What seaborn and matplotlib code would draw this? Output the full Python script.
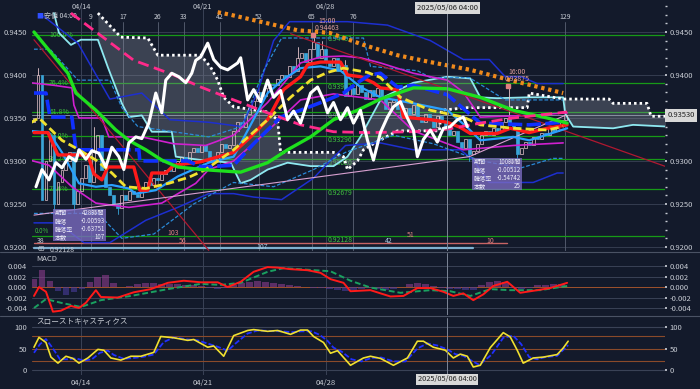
import numpy as np
import pandas as pd
import seaborn as sns
import matplotlib.pyplot as plt
import matplotlib.transforms as mtrans
from matplotlib.patches import Rectangle
from matplotlib.lines import Line2D

sns.set_theme(style="dark")
plt.rcParams['font.family'] = ['Noto Sans CJK JP', 'DejaVu Sans']

BG = "#131a2b"
GRID = "#3a4256"
TXT = "#c8ccd4"

# ---- candles (4h bars, one per bar index) ----
open0 = 0.9345
closes = [
    0.9350, 0.9400, 0.9255, 0.9300, 0.9330, 0.9250, 0.9275, 0.9290, 0.9300, 0.9310,
    0.9250, 0.9265, 0.9280, 0.9295, 0.9275, 0.9310, 0.9330, 0.9290, 0.9270, 0.9260,
    0.9250, 0.9245, 0.9260, 0.9255, 0.9265, 0.9262, 0.9258, 0.9268, 0.9275, 0.9272,
    0.9280, 0.9278, 0.9285, 0.9290, 0.9288, 0.9295, 0.9300, 0.9305, 0.9298, 0.9310,
    0.9315, 0.9310, 0.9318, 0.9312, 0.9305, 0.9300, 0.9310, 0.9320, 0.9315, 0.9318,
    0.9335, 0.9345, 0.9340, 0.9355, 0.9362, 0.9370, 0.9380, 0.9375, 0.9385, 0.9390,
    0.9388, 0.9395, 0.9400, 0.9398, 0.9410, 0.9405, 0.9420, 0.9425, 0.9415, 0.9430,
    0.9438, 0.9420, 0.9430, 0.9415, 0.9410, 0.9420, 0.9405, 0.9412, 0.9375, 0.9385,
    0.9378, 0.9388, 0.9380, 0.9372, 0.9382, 0.9376, 0.9385, 0.9375, 0.9360, 0.9368,
    0.9372, 0.9360, 0.9350, 0.9362, 0.9355, 0.9365, 0.9350, 0.9345, 0.9355, 0.9348,
    0.9340, 0.9352, 0.9345, 0.9338, 0.9330, 0.9335, 0.9322, 0.9315, 0.9325, 0.9308,
    0.9312, 0.9320, 0.9330, 0.9335, 0.9330, 0.9338, 0.9335, 0.9345, 0.9350, 0.9342,
    0.9340, 0.9308, 0.9315, 0.9322, 0.9318, 0.9328, 0.9325, 0.9332, 0.9330, 0.9338,
    0.9335, 0.9342, 0.9348, 0.9353,
]
highs = {1: 0.9408, 15: 0.9340, 66: 0.9432, 70: 0.94463, 72: 0.9440, 78: 0.9418, 119: 0.93875}
lows = {5: 0.9242, 10: 0.9240, 21: 0.9238, 109: 0.9300, 121: 0.9302}

# ---- indicator lines: (bar, value) ----
ma_green = [(0, 0.9450), (8.5, 0.9402), (10.5, 0.9379), (15.5, 0.9359), (20.5, 0.9336), (23.75, 0.9324),
            (28, 0.9313), (32, 0.9301), (36, 0.9293), (42, 0.9290), (51.75, 0.9287), (58.5, 0.9298),
            (63.5, 0.9313), (69.25, 0.9328), (75, 0.9348), (81, 0.9359), (86.75, 0.9372), (95, 0.9385),
            (103.5, 0.9384), (111.75, 0.9374), (120, 0.9359), (128.5, 0.9350), (133.5, 0.9344)]
ma_magenta = [(9.25, 0.9472), (25, 0.9417), (35, 0.9400), (41.75, 0.9386), (50, 0.9371), (58.5, 0.9356),
              (66.75, 0.9342), (75, 0.9334), (83.5, 0.9333), (95, 0.9334), (103.5, 0.9337),
              (111.75, 0.9344), (120, 0.9350), (133.5, 0.9357)]
ma_orange = [(46, 0.9473), (49.25, 0.9470), (66, 0.9452), (74, 0.9449), (82.5, 0.9435), (91, 0.9423),
             (99.25, 0.9415), (109.25, 0.9406), (119.25, 0.9394), (132.5, 0.9379)]
span_b = [(16, 0.9472), (21.75, 0.9444), (28.5, 0.9443), (31, 0.9423), (41.75, 0.9423), (44.25, 0.9409),
          (46, 0.9394), (47.5, 0.9374), (50, 0.9363), (58.5, 0.9357), (61, 0.9348), (61.75, 0.9310),
          (75, 0.9310), (77.5, 0.9305), (78.5, 0.9290), (81, 0.9300), (82.5, 0.9313), (85, 0.9320),
          (91, 0.9335), (101.5, 0.9335), (102, 0.9359), (108.5, 0.9362), (123.5, 0.9362), (124, 0.9379),
          (132.5, 0.9372), (144, 0.9372), (145, 0.9367), (153.5, 0.9367), (154.5, 0.9352), (158.5, 0.9352)]
span_a = [(5, 0.9472), (6.25, 0.9449), (9.25, 0.9435), (11.75, 0.9441), (16, 0.9441), (18.5, 0.9409),
          (22, 0.9367), (23.75, 0.9351), (27, 0.9353), (29.5, 0.9334), (34.5, 0.9334), (35.5, 0.9305),
          (42, 0.9301), (49.25, 0.9298), (51.75, 0.9274), (54.25, 0.9278), (58.5, 0.9290), (63.5, 0.9298),
          (69.25, 0.9294), (75, 0.9294), (78.5, 0.9305), (81.75, 0.9328), (85, 0.9356), (87, 0.9373),
          (95, 0.9391), (103.5, 0.9398), (109.25, 0.9396), (111.75, 0.9374), (116, 0.9373), (123.5, 0.9374),
          (132.5, 0.9374), (133, 0.9355), (135, 0.9340), (145, 0.9338), (150, 0.9342), (158.5, 0.9340)]
ma_yellow = [(-1, 0.9344), (1.25, 0.9350), (7, 0.9324), (11.25, 0.9313), (15.5, 0.9301), (19.5, 0.9286),
             (23, 0.9270), (28, 0.9268), (33.75, 0.9274), (38.75, 0.9281), (43, 0.9290), (50, 0.9313),
             (58.5, 0.9348), (64.25, 0.9374), (69.25, 0.9394), (73.5, 0.9403), (77.5, 0.9408), (83.5, 0.9403),
             (86.75, 0.9397), (91.75, 0.9374), (99.25, 0.9359), (107.5, 0.9351), (111.75, 0.9342),
             (120, 0.9338), (128.5, 0.9336), (132.5, 0.9340)]
ma_red = [(0, 0.9333), (3.5, 0.9333), (6, 0.9307), (13.5, 0.9307), (15, 0.9285), (17, 0.9278), (18.5, 0.9293),
          (25, 0.9293), (26.5, 0.9266), (28.5, 0.9266), (29.5, 0.9286), (33, 0.9286), (35, 0.9295),
          (41.75, 0.9299), (50, 0.9310), (54.25, 0.9328), (58.5, 0.9348), (62.5, 0.9383), (66.75, 0.9398),
          (68.5, 0.9412), (71.75, 0.9415), (76.75, 0.9415), (78.5, 0.9400), (81.75, 0.9398), (85, 0.9391),
          (86.75, 0.9385), (91, 0.9383), (92.5, 0.9351), (99.25, 0.9348), (103.5, 0.9345), (106.75, 0.9339),
          (109.25, 0.9332), (116, 0.9332), (119.25, 0.9338), (124, 0.9333), (128.5, 0.9338), (133.5, 0.9342)]
ma_blue = [(0, 0.9379), (3, 0.9379), (4, 0.9351), (9.5, 0.9351), (10.5, 0.9313), (26.25, 0.9313),
           (26.5, 0.9300), (38.5, 0.9300), (42, 0.9293), (50, 0.9295), (55, 0.9320), (61.75, 0.9351),
           (66.75, 0.9359), (73.5, 0.9371), (77.5, 0.9379), (81, 0.9391), (84, 0.9400), (86.75, 0.9402),
           (91, 0.9386), (95, 0.9388), (103.5, 0.9377), (111.75, 0.9344), (124, 0.9342), (132.5, 0.9345)]
bb_upper = [(2.5, 0.9468), (11, 0.9437), (19, 0.9372), (27, 0.9379), (34, 0.9348), (43.75, 0.9345),
            (52, 0.9340), (56, 0.9380), (60, 0.9440), (64, 0.9462), (78.5, 0.9462), (88.5, 0.9458),
            (99.25, 0.9440), (107.5, 0.9418), (114, 0.9418), (118, 0.9398), (122, 0.9398), (126, 0.9390),
            (132.5, 0.9390)]
bb_lower = [(0, 0.9228), (6, 0.9228), (12.5, 0.9205), (19, 0.9205), (28, 0.9231), (36, 0.9246),
            (43.75, 0.9262), (50, 0.9262), (55, 0.9258), (62, 0.9255), (70, 0.9280), (74.5, 0.9302),
            (78, 0.9318), (86.75, 0.9321), (95, 0.9313), (106.75, 0.9313), (110, 0.9301), (114, 0.9275),
            (125, 0.9275), (131, 0.9286), (132.5, 0.9286)]
bb_upper1 = [(0, 0.9430), (4, 0.9430), (11, 0.9394), (19, 0.9394), (22, 0.9362), (26, 0.9340),
             (43.75, 0.9328), (52, 0.9340), (57.5, 0.9405), (62, 0.9443), (82.5, 0.9443), (84.25, 0.9410),
             (96, 0.9405), (99.25, 0.9397), (109, 0.9397), (118, 0.9371), (132.5, 0.9371)]
bb_lower1 = [(0, 0.9239), (16, 0.9239), (22, 0.9210), (30, 0.9215), (40, 0.9250), (50, 0.9275),
             (60, 0.9270), (70, 0.9290), (78, 0.9310), (90, 0.9330), (100, 0.9320), (112, 0.9300),
             (122, 0.9292), (130, 0.9303), (132.5, 0.9303)]
env_upper = [(-1, 0.9391), (5, 0.9388), (9.5, 0.9385), (10, 0.9365), (11.25, 0.9350), (17, 0.9350),
             (18.75, 0.9328), (27, 0.9328), (35, 0.9320), (43, 0.9318), (50, 0.9330), (58.5, 0.9368),
             (66.75, 0.9414), (71.75, 0.9421), (77.5, 0.9422), (81.75, 0.9420), (86.75, 0.9414),
             (95, 0.9402), (103.5, 0.9394), (107.5, 0.9380), (111.75, 0.9351), (124, 0.9353), (133.5, 0.9356)]
env_lower = [(-1, 0.9301), (3.75, 0.9295), (9.5, 0.9270), (15.5, 0.9251), (23.75, 0.9246), (32, 0.9251),
             (40.5, 0.9274), (43.75, 0.9290), (50, 0.9300), (58.5, 0.9335), (66.75, 0.9371), (75, 0.9378),
             (86.75, 0.9371), (95, 0.9335), (107.5, 0.9313), (120, 0.9318), (132.5, 0.9321)]
ema_blue = [(-1, 0.9335), (3.75, 0.9333), (7, 0.9310), (11.25, 0.9274), (15.5, 0.9270), (19.5, 0.9272),
            (23.75, 0.9268), (25.5, 0.9262), (30.5, 0.9266), (36, 0.9282), (43.75, 0.9298), (50, 0.9305),
            (58.5, 0.9379), (62.5, 0.9395), (66.75, 0.9408), (71.75, 0.9410), (76.75, 0.9405),
            (81.75, 0.9386), (86.75, 0.9374), (95, 0.9367), (103.5, 0.9359), (108.5, 0.9339),
            (111.75, 0.9324), (120, 0.9328), (124, 0.9324), (133.5, 0.9338)]
white_pair = [(0.5, 0.9270), (2, 0.9290), (3.75, 0.9278), (5.5, 0.9298), (7, 0.9292), (8.75, 0.9305),
              (10.5, 0.9300), (11.25, 0.9313), (13, 0.9302), (14.5, 0.9312), (16.25, 0.9309), (18, 0.9293),
              (19.5, 0.9316), (21.25, 0.9305), (22.5, 0.9290), (23.75, 0.9321), (25.5, 0.9328), (27, 0.9326),
              (28.75, 0.9344), (30.5, 0.9379), (32, 0.9356), (33, 0.9394), (34.5, 0.9402), (36.25, 0.9398),
              (38, 0.9391), (39.5, 0.9402), (40.5, 0.9417), (41.75, 0.9421), (43.5, 0.9437), (45, 0.9418),
              (46.75, 0.9409), (48.5, 0.9406), (51, 0.9414), (51.75, 0.9420), (53.5, 0.9371), (55, 0.9383),
              (56.75, 0.9369), (58.5, 0.9394), (60, 0.9374), (61.75, 0.9382), (63.5, 0.9348), (65, 0.9358),
              (66.75, 0.9344), (69.25, 0.9379), (71, 0.9386), (72.5, 0.9371), (73.5, 0.9356), (75, 0.9368),
              (76.75, 0.9348), (78.5, 0.9362), (80, 0.9344), (81.75, 0.9359), (83.5, 0.9324), (85, 0.9301),
              (86.75, 0.9333), (88.5, 0.9351), (90, 0.9363), (91.75, 0.9369), (93.5, 0.9350), (95, 0.9336),
              (96, 0.9305), (97.5, 0.9325), (99.25, 0.9336), (101, 0.9322), (102.5, 0.9338), (104.25, 0.9340),
              (106, 0.9348), (107.5, 0.9351), (108.5, 0.9340)]
trend_red = [[(0, 0.9441), (43.75, 0.9196)], [(64.25, 0.9448), (158.5, 0.9293)]]
trend_pink = [[(0, 0.9237), (109, 0.9305)], [(109, 0.9305), (133, 0.9353)]]

fib_levels = [0.94463, 0.93912, 0.93571, 0.93296, 0.93020, 0.92679, 0.92128]
fib_pct = ["100.0%", "76.4%", "61.8%", "50.0%", "38.2%", "23.6%", "0.0%"]
last_price = 0.93530

# ---- MACD ----
macd = [(0, -0.0017), (1.25, 0.0000), (3, -0.0009), (4.75, -0.0047), (6.75, -0.0045), (9.25, -0.0036),
        (11.25, -0.0040), (13, -0.0030), (15.5, -0.0006), (16.75, -0.0019), (21, -0.0020), (25, -0.0010),
        (29.25, -0.0004), (33.5, 0.0008), (37.5, 0.0012), (41.75, 0.0009), (46, 0.0009), (48.5, 0.0000),
        (51.75, 0.0010), (55, 0.0029), (58.5, 0.0038), (61, 0.0037), (64.25, 0.0034), (68.5, 0.0032),
        (71.75, 0.0027), (74.25, 0.0015), (77.5, 0.0008), (79.25, -0.0008), (84.25, -0.0006),
        (89.25, -0.0018), (92.5, -0.0017), (96, -0.0002), (99.25, -0.0002), (102.5, -0.0009),
        (105, -0.0017), (107.5, -0.0012), (110, -0.0025), (112.5, -0.0014), (115, 0.0002),
        (118.5, 0.0010), (121.75, -0.0011), (126, -0.0006), (129.25, -0.0002), (133.5, 0.0008)]
signal = [(0, -0.0040), (3, -0.0023), (6.75, -0.0030), (11.75, -0.0038), (16.75, -0.0025), (24.25, -0.0017),
          (33.5, -0.0004), (41.75, 0.0006), (46.75, 0.0004), (51.75, 0.0008), (58.5, 0.0029), (62.5, 0.0036),
          (74.25, 0.0030), (79.25, 0.0012), (84.25, -0.0001), (91.75, -0.0011), (99.25, -0.0006),
          (104.25, -0.0008), (109.25, -0.0017), (114.25, -0.0004), (119.25, -0.0006), (126.75, -0.0006),
          (133.5, 0.0002)]
hist_bars = list(range(0, 134, 2))
hist = [0.0015, 0.0032, 0.0012, -0.0008, -0.0015, -0.0010, -0.0003, 0.0010, 0.0020, 0.0022,
        0.0008, 0.0001, 0.0002, 0.0005, 0.0007, 0.0008, 0.0006, 0.0006, 0.0005, 0.0004,
        0.0003, 0.0002, -0.0001, -0.0003, -0.0002, 0.0004, 0.0007, 0.0010, 0.0012, 0.0010,
        0.0008, 0.0006, 0.0003, 0.0002, 0.0001, -0.0001, -0.0002, -0.0004, -0.0006, -0.0008,
        -0.0006, -0.0004, -0.0002, -0.0003, -0.0005, -0.0004, 0.0000, 0.0006, 0.0008, 0.0006,
        0.0002, -0.0002, -0.0004, -0.0003, -0.0006, -0.0005, 0.0004, 0.0010, 0.0012, 0.0010,
        -0.0002, -0.0004, -0.0001, 0.0003, 0.0004, 0.0006, 0.0006]

# ---- slow stochastics ----
stoch_k = [(0, 53), (1.25, 76), (3, 64), (4.25, 30), (6, 16), (8, 32), (9.75, 27), (11.25, 16), (13.5, 28),
           (16, 48), (17.5, 46), (19.25, 28), (21.75, 23), (24.25, 32), (26.75, 32), (30, 41), (31.75, 78),
           (35, 75), (38.5, 69), (40, 71), (43.5, 53), (45, 56), (47.5, 32), (50, 80), (53.5, 92), (55, 94),
           (58.5, 90), (61, 92), (64.25, 83), (66.75, 93), (68.5, 93), (70, 78), (72.5, 64), (74.25, 39),
           (76, 45), (79.25, 11), (82.5, 28), (84.25, 32), (86.75, 27), (90, 11), (93.5, 28), (96, 67),
           (97.5, 67), (100, 53), (103, 46), (105, 28), (106.75, 37), (108.5, 32), (110, 7), (111.75, 11),
           (114.25, 52), (117.5, 87), (119.25, 77), (121, 46), (122.5, 16), (125, 28), (127.5, 30),
           (131, 36), (132.5, 51), (133.75, 67)]
stoch_d = [(0, 40), (1.5, 60), (3, 72), (4.75, 50), (6.5, 25), (8.5, 25), (10.5, 27), (12.5, 22), (14.5, 25),
           (16.5, 40), (18.5, 45), (20, 35), (22.5, 26), (25, 28), (27.5, 31), (30, 36), (32.5, 65), (35, 76),
           (38.5, 71), (41, 69), (44, 60), (46, 54), (48.5, 45), (50.5, 62), (53.5, 85), (56, 92), (59, 91),
           (62, 90), (64.5, 88), (67, 90), (69.5, 90), (71.5, 82), (73.5, 68), (75, 52), (77, 43), (79.5, 25),
           (82, 20), (84.5, 28), (87, 29), (90, 20), (93, 20), (96, 50), (98.5, 62), (101, 57), (103.5, 48),
           (105.5, 37), (107.5, 33), (109.5, 22), (111.5, 12), (114.5, 35), (117.5, 75), (120, 80), (122, 60),
           (124, 30), (126, 25), (128, 30), (131, 33), (133.75, 58)]

date_ticks = [11.75, 42.25, 73]
date_labels = ["04/14", "04/21", "04/28"]
count_ticks = [14.25, 22.25, 31, 37.5, 46.5, 56.25, 69.5, 80, 133]
count_labels = ["9", "17", "26", "33", "42", "52", "65", "76", "129"]
cursor_bar = 103.5
cursor_label = "2025/05/06 04:00"


def line(a, pts, color, lw, ls="-", z=3):
    df = pd.DataFrame(pts, columns=["bar", "val"])
    sns.lineplot(data=df, x="bar", y="val", ax=a, color=color, lw=lw, linestyle=ls,
                 sort=False, estimator=None, zorder=z)


fig = plt.figure(figsize=(7, 3.89), dpi=100, facecolor=BG)
ax = fig.add_axes([0.0457, 0.3548, 0.9043, 0.635])
axm = fig.add_axes([0.0457, 0.1902, 0.9043, 0.1594], sharex=ax)
axs = fig.add_axes([0.0457, 0.036, 0.9043, 0.1465], sharex=ax)

for a in (ax, axm, axs):
    a.set_facecolor(BG)
    for s in a.spines.values():
        s.set_visible(False)
    a.tick_params(axis="y", colors=TXT, labelsize=5.5, left=False, right=True, length=1.5,
                  labelleft=True, labelright=True, pad=2)
    a.tick_params(axis="x", colors=TXT, labelsize=5.5, bottom=False, length=0, pad=3)
    for d in date_ticks:
        a.axvline(d, color=GRID, lw=0.7, zorder=0.5)
    a.axvline(cursor_bar, color="#7d8596", lw=0.7, zorder=6)

# ---------- main panel ----------
ax.set_xlim(-0.5, 158)
ax.set_ylim(0.91953, 0.94826)
yt = [0.9200, 0.9250, 0.9300, 0.9350, 0.9400, 0.9450]
for y in yt:
    ax.axhline(y, color=GRID, lw=0.6, zorder=0.5)
for b, lab in zip(count_ticks, count_labels):
    ax.plot([b, b], [0.91953, 0.9462], color="#5a6274", lw=0.6, zorder=0.6)
    ax.text(b, 0.94674, lab, color=TXT, fontsize=5, ha="center", va="center")
for d, l in zip(date_ticks, date_labels):
    ax.text(d, 0.94785, l, color=TXT, fontsize=5.3, ha="center", va="center")

for lvl, pct in zip(fib_levels, fib_pct):
    ax.axhline(lvl, color="#179a17", lw=0.9, zorder=0.8)
    if pct != "0.0%":
        ax.text(3.8, lvl, pct, color="#3fbf3f", fontsize=5, va="center", zorder=0.9)
    ax.text(73.5, lvl, f"{lvl:.5f}", color="#3fbf3f", fontsize=5, va="top", zorder=0.9)
# 0.0% label sits just left of the info box
ax.text(0.3, fib_levels[-1] + 0.00012, fib_pct[-1], color="#3fbf3f", fontsize=4.5, va="bottom", zorder=0.9)

# cloud
xa, ya = zip(*span_a)
xb, yb = zip(*span_b)
grid = np.union1d(np.array(xa), np.array(xb))
grid = grid[grid >= xb[0]]
ax.fill_between(grid, np.interp(grid, xa, ya), np.interp(grid, xb, yb), color="#8f95a3",
                alpha=0.33, lw=0, zorder=1)
line(ax, span_a, "#8ee8f0", 1.3, z=2)
line(ax, span_b, "#ffffff", 2.0, ls=(0, (0.9, 1.1)), z=2)

# bands and envelopes
line(ax, bb_upper, "#1d2fd0", 1.1)
line(ax, bb_lower, "#1d2fd0", 1.1)
line(ax, bb_upper1, "#2a8ad8", 0.9, ls=(0, (3, 1.5)))
line(ax, bb_lower1, "#2a8ad8", 0.9, ls=(0, (3, 1.5)))
line(ax, env_upper, "#d020d0", 1.2)
line(ax, env_lower, "#d020d0", 1.2)
for seg in trend_red:
    line(ax, seg, "#b01830", 0.9)
for seg in trend_pink:
    line(ax, seg, "#d8a0d0", 0.8)

# candles
bars = np.arange(len(closes))
opens = [open0] + closes[:-1]
up = [c >= o for o, c in zip(opens, closes)]
body_lo = [min(o, c) for o, c in zip(opens, closes)]
body_h = [max(abs(c - o), 0.00004) for o, c in zip(opens, closes)]
ax.bar(bars, body_h, bottom=body_lo, width=0.72,
       color=["none" if u else "#39a5d8" for u in up],
       edgecolor=["#e6c6cc" if u else "#39a5d8" for u in up], lw=0.5, zorder=2.5)
for b, h in highs.items():
    ax.plot([b, b], [max(opens[b], closes[b]), h], color="#e6c6cc", lw=0.6, zorder=2.4)
for b, lo in lows.items():
    ax.plot([b, b], [lo, min(opens[b], closes[b])], color="#39a5d8", lw=0.6, zorder=2.4)

# moving averages
line(ax, ema_blue, "#2aa0ff", 1.6, z=3)
line(ax, ma_red, "#ff1a1a", 2.4, z=3.2)
line(ax, ma_blue, "#1030ff", 2.6, ls=(0, (4, 1.2)), z=3.3)
line(ax, ma_yellow, "#f0e030", 2.0, ls=(0, (3, 1.5)), z=3.4)
line(ax, ma_green, "#1ee01e", 2.4, z=3.5)
line(ax, ma_magenta, "#ff2a8a", 2.0, ls=(0, (4, 2)), z=3.5)
line(ax, ma_orange, "#f08a1c", 3.0, ls=(0, (0.8, 0.9)), z=3.6)
line(ax, white_pair, "#ffffff", 2.2, z=4)

# bottom count lines
ax.plot([0, 118.5], [0.92046, 0.92046], color="#c86464", lw=1.0, zorder=1)
ax.plot([0, 110], [0.91988, 0.91988], color="#7fb0d0", lw=1.6, zorder=1)
for b, y, t, c in [(1.75, 0.92070, "38", TXT), (1.75, 0.91977, "65", TXT), (34.75, 0.92162, "103", "#e08080"),
                   (37.25, 0.92070, "56", "#e08080"), (57.25, 0.91995, "107", "#a8c8e0"),
                   (88.75, 0.92070, "42", "#a8c8e0"), (94.25, 0.92140, "51", "#e08080"),
                   (114.25, 0.92070, "10", "#e08080")]:
    ax.text(b, y, t, color=c, fontsize=5, va="center", ha="center", zorder=5)
ax.text(4, 0.91965, "0.92128", color=TXT, fontsize=5, va="center", zorder=5)

# info boxes
for x0, x1, y0, y1, rows in [
        (4.75, 18, 0.92070, 0.92442, [("期間", "428時間"), ("騰落", "-0.00593"), ("騰落率", "-0.63751"), ("本数", "107")]),
        (109.75, 122.25, 0.92663, 0.93035, [("期間", "100時間"), ("騰落", "-0.00512"), ("騰落率", "-0.54742"), ("本数", "25")])]:
    ax.add_patch(Rectangle((x0, y0), x1 - x0, y1 - y0, facecolor="#7a6bc0", alpha=0.8, lw=0, zorder=5))
    step = (y1 - y0) / 4
    for k, (lab, val) in enumerate(rows):
        yy = y1 - step * (k + 0.5)
        ax.text(x0 + 0.4, yy, lab, color="#ececf8", fontsize=4.4, va="center", zorder=6)
        ax.text(x1 - 0.3, yy, val, color="#ececf8", fontsize=4.4, va="center", ha="right", zorder=6)

# high markers
for b, p, tm, dx in [(69.75, 0.94463, "15:00", 3.6), (118.75, 0.93875, "16:00", 2.2)]:
    ax.plot(b, p, marker="s", ms=2.5, color="#e08080", zorder=6)
    ax.text(b + dx, p + 0.00138, tm, color="#e0a0a0", fontsize=5, ha="center", zorder=6)
    ax.text(b + dx, p + 0.00060, f"{p:.5f}", color="#e0a0a0", fontsize=5, ha="center", zorder=6)

ax.text(0.5, 0.94686, "■", color="#3050ff", fontsize=5, va="center")
ax.text(2.6, 0.94686, "安値 04:00", color=TXT, fontsize=5, va="center")

# last price
ax.axhline(last_price, color="#9aa3b4", lw=0.6, zorder=0.9)
trans = mtrans.blended_transform_factory(ax.transAxes, ax.transData)
ax.text(1.004, last_price, f"{last_price:.5f}", transform=trans, color="#202020", fontsize=5.5,
        va="center", bbox=dict(boxstyle="square,pad=0.3", fc="#d8d8d8", ec="none"), zorder=7)
ax.text(cursor_bar, 0.94775, cursor_label, color="#202020", fontsize=5.5, ha="center", va="center",
        bbox=dict(boxstyle="square,pad=0.25", fc="#d8d8d8", ec="none"), zorder=7)

ax.set_yticks(yt)
ax.set_yticklabels([f"{y:.4f}" for y in yt])
ax.set_yticks(np.arange(0.9200, 0.9481, 0.001), minor=True)
ax.tick_params(axis="y", which="minor", left=False, right=True, length=1.5, colors=TXT)
ax.tick_params(axis="x", labelbottom=False)
# the price box hides the right-hand 0.9350 label, as in the platform
for t in ax.yaxis.get_major_ticks():
    if abs(t.get_loc() - 0.9350) < 1e-6:
        t.label2.set_visible(False)

# ---------- MACD ----------
axm.set_ylim(-0.00533, 0.00648)
mt = [-0.004, -0.002, 0.0, 0.002, 0.004]
for y in mt:
    axm.axhline(y, color="#a0522d" if y == 0 else GRID, lw=0.7, zorder=0.5)
axm.bar(hist_bars, hist, width=1.7, color=["#8c3c8c" if h >= 0 else "#4a3c9c" for h in hist],
        alpha=0.6, lw=0, edgecolor="none", zorder=1)
line(axm, macd, "#ff1a1a", 1.4, z=3)
line(axm, signal, "#1aa060", 1.4, ls=(0, (3, 1.5)), z=2.5)
axm.set_yticks(mt)
axm.set_yticklabels([f"{y:.3f}" for y in mt])
axm.tick_params(axis="x", labelbottom=False)
axm.text(0.5, 0.0054, "MACD", color=TXT, fontsize=5.5, va="center")

# ---------- slow stochastics ----------
axs.set_ylim(-11.6, 121)
for y, c in [(0, GRID), (20, "#8a4a2a"), (50, "#8a4a2a"), (80, "#8a4a2a"), (100, GRID)]:
    axs.axhline(y, color=c, lw=0.8, zorder=0.5)
line(axs, stoch_d, "#2030ff", 1.3, ls=(0, (3, 1.2)), z=2)
line(axs, stoch_k, "#f0e030", 1.2, z=3)
axs.set_yticks([0, 50, 100])
axs.set_yticklabels(["0", "50", "100"])
axs.set_xticks(date_ticks)
axs.set_xticklabels(date_labels)
axs.text(0.5, 111, "スローストキャスティクス", color=TXT, fontsize=5.5, va="center")
axs.text(cursor_bar, -21.5, cursor_label, color="#202020", fontsize=5.3, ha="center", va="center",
         bbox=dict(boxstyle="square,pad=0.2", fc="#d8d8d8", ec="none"), clip_on=False, zorder=7)

for a in (ax, axm, axs):
    a.set_xlabel("")
    a.set_ylabel("")

for yy in (252 / 389, 316 / 389):
    fig.add_artist(Line2D([0, 1], [1 - yy, 1 - yy], color="#4a5264", lw=0.8))

fig.savefig("out.png", dpi=100, facecolor=BG)
